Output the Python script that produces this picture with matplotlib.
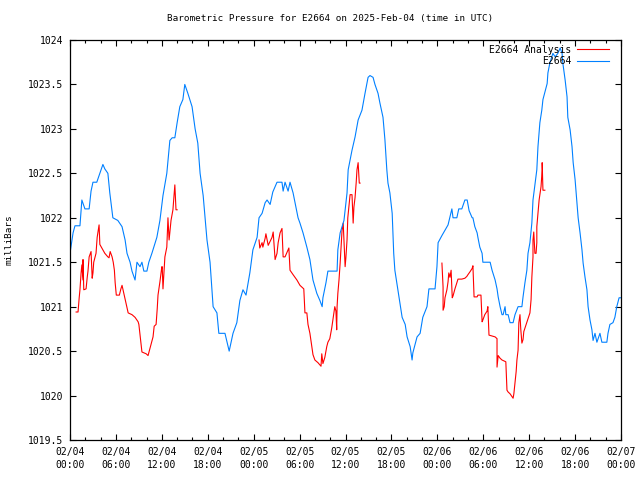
import numpy as np
import matplotlib
matplotlib.use('Agg')
import matplotlib.pyplot as plt

# hours since 02/04 00:00 UTC, pressure in millibars
blue_hours = [0.0, 0.4, 0.65, 1.3, 1.55, 1.95, 2.5, 2.75, 3.0, 3.5, 3.9, 4.3, 4.55, 4.95, 5.2, 5.6,
              6.25, 6.8, 7.2, 7.45, 7.85, 8.1, 8.5, 8.75, 9.15, 9.4, 9.65, 10.05, 10.3, 10.7, 11.35,
              11.75, 12.15, 12.65, 13.05, 13.35, 13.7, 14.0, 14.35, 14.75, 15.0, 15.4, 15.95, 16.35,
              16.7, 17.0, 17.4, 17.65, 17.9, 18.3, 18.7, 19.2, 19.45, 20.25, 20.8, 21.3, 21.8, 22.2,
              22.6, 23.0, 23.5, 23.9, 24.45, 24.7, 25.1, 25.5, 25.75, 26.15, 26.5, 27.05, 27.7, 27.85,
              28.1, 28.5, 28.75, 29.15, 29.4, 29.8, 30.05, 30.45, 30.95, 31.35, 31.75, 32.25, 32.65,
              32.95, 33.05, 33.45, 33.7, 34.9, 35.0, 35.3, 35.8, 36.2, 36.35, 36.85, 37.25, 37.65,
              38.15, 38.55, 38.95, 39.2, 39.6, 39.85, 40.25, 40.5, 40.9, 41.15, 41.4, 41.55, 41.8,
              42.1, 42.2, 42.3, 42.45, 42.7, 43.1, 43.4, 43.8, 44.05, 44.45, 44.7, 44.8, 45.35, 45.75,
              46.1, 46.65, 46.9, 47.7, 47.95, 48.1, 48.6, 49.0, 49.4, 49.9, 50.05, 50.55, 50.8, 51.2,
              51.6, 51.9, 52.15, 52.55, 52.65, 52.9, 53.2, 53.3, 53.55, 53.85, 53.95, 54.9, 55.15,
              55.55, 55.8, 55.95, 56.2, 56.45, 56.6, 56.85, 56.95, 57.25, 57.5, 57.9, 58.15, 58.55,
              59.05, 59.2, 59.45, 59.7, 59.85, 60.1, 60.35, 60.5, 61.0, 61.15, 61.4, 61.65, 61.8,
              62.05, 62.35, 62.45, 62.7, 63.1, 63.4, 63.75, 64.05, 64.3, 64.4, 64.7, 64.95, 65.05,
              65.35, 65.6, 65.75, 66.0, 66.25, 66.4, 66.65, 66.9, 67.05, 67.3, 67.55, 67.7, 67.95,
              68.2, 68.35, 68.6, 68.85, 69.25, 69.5, 70.15, 70.3, 70.55, 70.95, 71.2, 71.45, 71.75, 72.0]
blue_mb = [1021.6, 1021.83, 1021.91, 1021.91, 1022.2, 1022.1, 1022.1, 1022.3, 1022.4, 1022.4, 1022.5,
           1022.6, 1022.55, 1022.5, 1022.28, 1022.0, 1021.97, 1021.9, 1021.75, 1021.6, 1021.5, 1021.4,
           1021.3, 1021.5, 1021.45, 1021.5, 1021.4, 1021.4, 1021.5, 1021.6, 1021.78, 1021.97, 1022.25,
           1022.5, 1022.87, 1022.9, 1022.9, 1023.07, 1023.25, 1023.33, 1023.5, 1023.4, 1023.25, 1023.0,
           1022.84, 1022.5, 1022.25, 1022.0, 1021.75, 1021.5, 1021.0, 1020.93, 1020.7, 1020.7, 1020.5,
           1020.7, 1020.82, 1021.07, 1021.19, 1021.13, 1021.38, 1021.64, 1021.78, 1022.0, 1022.05,
           1022.17, 1022.2, 1022.15, 1022.29, 1022.4, 1022.4, 1022.3, 1022.4, 1022.3, 1022.4, 1022.28,
           1022.17, 1022.0, 1021.94, 1021.83, 1021.67, 1021.53, 1021.3, 1021.15, 1021.07, 1021.0,
           1021.1, 1021.27, 1021.4, 1021.4, 1021.64, 1021.83, 1021.97, 1022.28, 1022.54, 1022.76,
           1022.91, 1023.1, 1023.21, 1023.4, 1023.58, 1023.6, 1023.58, 1023.5, 1023.4, 1023.29,
           1023.13, 1022.88, 1022.54, 1022.39, 1022.28, 1022.05, 1021.83, 1021.6, 1021.41, 1021.27,
           1021.04, 1020.88, 1020.8, 1020.66, 1020.55, 1020.4, 1020.48, 1020.66, 1020.7, 1020.88,
           1021.0, 1021.2, 1021.2, 1021.45, 1021.72, 1021.8, 1021.86, 1021.92, 1022.1, 1022.0, 1022.0,
           1022.1, 1022.1, 1022.2, 1022.2, 1022.08, 1022.0, 1022.0, 1021.9, 1021.83, 1021.78, 1021.67,
           1021.6, 1021.5, 1021.5, 1021.41, 1021.3, 1021.2, 1021.11, 1021.0, 1020.91, 1020.91, 1021.0,
           1020.91, 1020.91, 1020.82, 1020.82, 1020.91, 1021.0, 1021.0, 1021.11, 1021.27, 1021.41,
           1021.6, 1021.72, 1021.94, 1022.2, 1022.54, 1022.8, 1023.07, 1023.21, 1023.33, 1023.41,
           1023.51, 1023.63, 1023.74, 1023.85, 1023.81, 1023.85, 1023.91, 1023.85, 1023.74, 1023.55,
           1023.36, 1023.13, 1022.99, 1022.8, 1022.62, 1022.43, 1022.17, 1022.0, 1021.83, 1021.64,
           1021.49, 1021.33, 1021.19, 1021.0, 1020.85, 1020.74, 1020.62, 1020.7, 1020.6, 1020.7,
           1020.6, 1020.6, 1020.7, 1020.8, 1020.82, 1020.88, 1021.0, 1021.1, 1021.1]

# analysis runs (three separate pieces)
red1_hours = [0.8, 1.05, 1.2, 1.3, 1.45, 1.55, 1.7, 1.7, 1.8, 2.1, 2.25, 2.35, 2.5, 2.75, 2.9, 3.0,
              3.1, 3.4, 3.55, 3.7, 3.8, 3.9, 4.55, 4.95, 5.1, 5.25, 5.5, 5.65, 5.8, 5.9, 6.05, 6.45,
              6.65, 6.8, 7.6, 8.1, 8.5, 8.9, 9.0, 9.4, 9.95, 10.2, 10.45, 10.85, 11.0, 11.25, 11.4,
              11.5, 11.75, 12.0, 12.05, 12.15, 12.4, 12.65, 12.8, 12.95, 13.2, 13.45, 13.7, 13.85, 14.0]
red1_mb = [1020.94, 1020.94, 1021.1, 1021.19, 1021.38, 1021.47, 1021.3, 1021.53, 1021.19, 1021.2,
           1021.33, 1021.4, 1021.56, 1021.62, 1021.32, 1021.38, 1021.5, 1021.6, 1021.78, 1021.86,
           1021.92, 1021.7, 1021.6, 1021.56, 1021.55, 1021.62, 1021.56, 1021.5, 1021.41, 1021.27,
           1021.13, 1021.13, 1021.2, 1021.24, 1020.93, 1020.91, 1020.88, 1020.83, 1020.8, 1020.49,
           1020.47, 1020.45, 1020.53, 1020.66, 1020.78, 1020.8, 1020.98, 1021.13, 1021.28, 1021.45,
           1021.45, 1021.2, 1021.56, 1021.67, 1022.0, 1021.75, 1021.97, 1022.09, 1022.37, 1022.09,
           1022.09]
red2_hours = [24.7, 24.8, 25.1, 25.2, 25.5, 25.6, 25.9, 26.4, 26.55, 26.8, 27.05, 27.2, 27.45, 27.7,
              27.85, 28.1, 28.5, 28.6, 28.75, 29.15, 29.65, 30.05, 30.55, 30.7, 30.95, 31.1, 31.35,
              31.6, 31.75, 32.0, 32.4, 32.8, 32.9, 33.05, 33.3, 33.55, 33.7, 33.95, 34.2, 34.35, 34.6,
              34.75, 34.85, 34.9, 35.0, 35.15, 35.3, 35.55, 35.7, 35.95, 36.05, 36.2, 36.3, 36.6,
              36.85, 37.0, 37.1, 37.25, 37.4, 37.5, 37.65, 37.8, 37.9]
red2_mb = [1021.75, 1021.66, 1021.72, 1021.67, 1021.77, 1021.82, 1021.69, 1021.78, 1021.84, 1021.53,
           1021.6, 1021.72, 1021.83, 1021.88, 1021.56, 1021.56, 1021.64, 1021.66, 1021.41, 1021.36,
           1021.3, 1021.24, 1021.2, 1020.93, 1020.93, 1020.8, 1020.7, 1020.55, 1020.46, 1020.4,
           1020.37, 1020.33, 1020.47, 1020.36, 1020.43, 1020.55, 1020.6, 1020.64, 1020.76, 1020.85,
           1021.0, 1020.95, 1020.74, 1021.0, 1021.15, 1021.3, 1021.49, 1021.86, 1021.94, 1021.45,
           1021.55, 1021.75, 1022.0, 1022.26, 1022.26, 1021.94, 1022.12, 1022.23, 1022.4, 1022.54,
           1022.62, 1022.39, 1022.39]
red3_hours = [48.6, 48.75, 48.75, 48.9, 49.0, 49.25, 49.4, 49.5, 49.65, 49.8, 49.95, 50.05, 50.3,
              50.55, 50.7, 51.2, 51.6, 51.85, 52.0, 52.25, 52.55, 52.65, 52.8, 53.2, 53.3, 53.7,
              53.85, 53.95, 54.2, 54.5, 54.6, 54.75, 55.15, 55.55, 55.8, 55.8, 55.95, 56.2, 56.45,
              56.95, 57.1, 57.25, 57.5, 57.9, 58.0, 58.15, 58.3, 58.4, 58.55, 58.65, 58.8, 58.9,
              59.05, 59.2, 59.3, 59.45, 59.7, 59.85, 60.1, 60.25, 60.35, 60.5, 60.5, 60.6, 60.75,
              60.9, 61.0, 61.0, 61.15, 61.3, 61.55, 61.7, 61.7, 61.8, 62.05]
red3_mb = [1021.49, 1021.22, 1020.96, 1021.0, 1021.1, 1021.19, 1021.28, 1021.38, 1021.33, 1021.41,
           1021.1, 1021.12, 1021.2, 1021.27, 1021.31, 1021.31, 1021.32, 1021.34, 1021.36, 1021.39,
           1021.43, 1021.46, 1021.11, 1021.11, 1021.13, 1021.13, 1020.83, 1020.85, 1020.91, 1020.95,
           1021.0, 1020.68, 1020.67, 1020.66, 1020.64, 1020.32, 1020.45, 1020.42, 1020.4, 1020.38,
           1020.06, 1020.04, 1020.02, 1019.97, 1020.02, 1020.15, 1020.27, 1020.4, 1020.51, 1020.82,
           1020.91, 1020.75, 1020.59, 1020.63, 1020.72, 1020.76, 1020.83, 1020.87, 1020.93, 1021.08,
           1021.33, 1021.56, 1021.75, 1021.84, 1021.6, 1021.6, 1021.72, 1021.9, 1022.05, 1022.2,
           1022.35, 1022.54, 1022.62, 1022.31, 1022.31]

x_ticks = [0, 6, 12, 18, 24, 30, 36, 42, 48, 54, 60, 66, 72]
x_labels = ['02/04\n00:00', '02/04\n06:00', '02/04\n12:00', '02/04\n18:00',
            '02/05\n00:00', '02/05\n06:00', '02/05\n12:00', '02/05\n18:00',
            '02/06\n00:00', '02/06\n06:00', '02/06\n12:00', '02/06\n18:00', '02/07\n00:00']
y_ticks = [1019.5, 1020, 1020.5, 1021, 1021.5, 1022, 1022.5, 1023, 1023.5, 1024]
y_labels = ['1019.5', '1020', '1020.5', '1021', '1021.5', '1022', '1022.5', '1023', '1023.5', '1024']

# join the analysis runs with nan so the line breaks between them
red_hours = red1_hours + [np.nan] + red2_hours + [np.nan] + red3_hours
red_mb = red1_mb + [np.nan] + red2_mb + [np.nan] + red3_mb

plt.rcParams['font.family'] = ['DejaVu Sans Mono']
plt.rcParams['font.size'] = 7

fig = plt.figure(figsize=(6.4, 4.8), dpi=100)
ax = fig.add_axes([70 / 640, 40 / 480, 551 / 640, 400 / 480])

ax.plot(red_hours, red_mb, color='#ff0000', lw=0.8, label='E2664 Analysis')
ax.plot(blue_hours, blue_mb, color='#0080ff', lw=0.8, label='E2664')

ax.set_xlim(0, 72)
ax.set_ylim(1019.5, 1024)
ax.set_xticks(x_ticks)
ax.set_xticklabels(x_labels, linespacing=1.35)
ax.set_xticks(np.arange(0, 73, 2), minor=True)
ax.set_yticks(y_ticks)
ax.set_yticklabels(y_labels)
ax.tick_params(which='both', direction='in', top=True, right=True, width=0.8)
ax.tick_params(which='major', length=4.5)
ax.tick_params(axis='x', which='major', pad=5)
ax.tick_params(axis='y', which='major', pad=5)
ax.tick_params(which='minor', length=2.2)
for s in ax.spines.values():
    s.set_linewidth(0.9)

fig.text(330 / 640, 1 - 19 / 480, 'Barometric Pressure for E2664 on 2025-Feb-04 (time in UTC)',
         fontsize=6.7, ha='center', va='center')
ax.set_ylabel('milliBars', fontsize=6.7, labelpad=10)

ax.legend(loc='upper right', bbox_to_anchor=(0.99, 1.005), markerfirst=False, frameon=False,
          handlelength=3.3, handletextpad=0.5, labelspacing=0.15, borderpad=0.2, fontsize=7)

fig.savefig('out.png', dpi=100)
